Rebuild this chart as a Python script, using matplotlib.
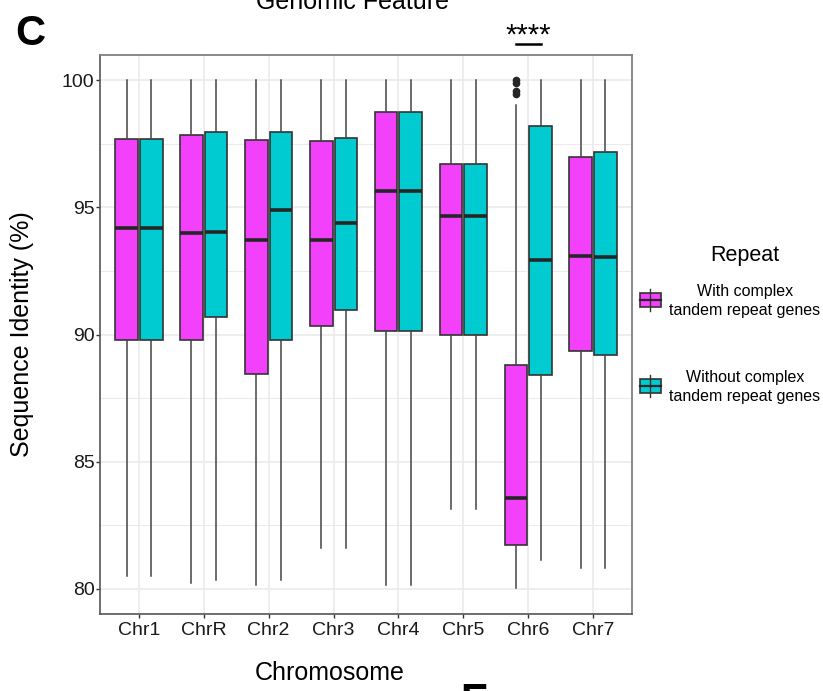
import matplotlib
matplotlib.use('Agg')
import matplotlib.pyplot as plt
from matplotlib.patches import Rectangle
from matplotlib.lines import Line2D

plt.rcParams['font.family'] = ['Liberation Sans', 'DejaVu Sans']

# values (Sequence Identity, %)
chromosomes = ['Chr1', 'ChrR', 'Chr2', 'Chr3', 'Chr4', 'Chr5', 'Chr6', 'Chr7']
group_labels = ['With complex\ntandem repeat genes', 'Without complex\ntandem repeat genes']

with_low = [80.48, 80.22, 80.13, 81.60, 80.15, 83.13, 80.01, 80.81]
with_q1 = [89.80, 89.80, 88.44, 90.34, 90.14, 90.00, 81.73, 89.37]
with_med = [94.18, 93.98, 93.73, 93.70, 95.64, 94.67, 83.55, 93.07]
with_q3 = [97.71, 97.85, 97.66, 97.60, 98.75, 96.72, 88.79, 97.00]
with_high = [100.0, 100.0, 100.0, 100.0, 100.0, 100.0, 99.02, 100.0]
with_outliers = [[], [], [], [], [], [], [100.0, 99.9, 99.6, 99.45], []]

without_low = [80.48, 80.34, 80.34, 81.60, 80.15, 83.13, 81.11, 80.81]
without_q1 = [89.80, 90.69, 89.80, 90.97, 90.14, 90.00, 88.39, 89.19]
without_med = [94.18, 94.04, 94.89, 94.40, 95.64, 94.67, 92.95, 93.04]
without_q3 = [97.71, 97.98, 97.95, 97.74, 98.75, 96.72, 98.19, 97.17]
without_high = [100.0, 100.0, 100.0, 100.0, 100.0, 100.0, 100.0, 100.0]
without_outliers = [[], [], [], [], [], [], [], []]

sig_chrom = 'Chr6'
sig_label = '****'

colors = ['#F340FA', '#00CBD1']
edge = '#333333'


def make_stats(low, q1, med, q3, high, fliers):
    return [dict(whislo=a, q1=b, med=c, q3=d, whishi=e, fliers=f)
            for a, b, c, d, e, f in zip(low, q1, med, q3, high, fliers)]


fig = plt.figure(figsize=(8.23, 6.91), dpi=100)
ax = fig.add_axes([100 / 823, 77 / 691, 532 / 823, 559 / 691])

groups = [
    make_stats(with_low, with_q1, with_med, with_q3, with_high, with_outliers),
    make_stats(without_low, without_q1, without_med, without_q3, without_high, without_outliers),
]
offsets = [-0.19, 0.19]
base = list(range(1, len(chromosomes) + 1))

for stats, off, col in zip(groups, offsets, colors):
    ax.bxp(stats, positions=[p + off for p in base], widths=0.35,
           patch_artist=True, showcaps=False, showfliers=True,
           boxprops=dict(facecolor=col, edgecolor=edge, linewidth=1.2),
           whiskerprops=dict(color='#444444', linewidth=1.1),
           medianprops=dict(color='#262626', linewidth=2.6),
           flierprops=dict(marker='o', markerfacecolor='#262626',
                           markeredgecolor='#262626', markersize=4.5),
           manage_ticks=False, zorder=3)

ax.set_xlim(0.4, len(chromosomes) + 0.6)
ax.set_ylim(79.0, 101.0)
ax.set_xticks(base)
ax.set_xticklabels(chromosomes)
ax.set_yticks([80, 85, 90, 95, 100])
ax.set_yticks([82.5, 87.5, 92.5, 97.5], minor=True)
ax.tick_params(axis='both', which='major', labelsize=14, length=3, width=1,
               color=edge, labelcolor='#1a1a1a')
ax.tick_params(axis='x', pad=2.5)
ax.tick_params(axis='y', pad=1)
ax.tick_params(axis='y', which='minor', length=0)

ax.grid(True, which='major', color='#ebebeb', linewidth=1.2, zorder=0)
ax.grid(True, which='minor', axis='y', color='#ebebeb', linewidth=0.7, zorder=0)
ax.set_axisbelow(True)

for side in ['left', 'bottom']:
    ax.spines[side].set_color('#555555')
    ax.spines[side].set_linewidth(1.2)
for side in ['top', 'right']:
    ax.spines[side].set_color('#808080')
    ax.spines[side].set_linewidth(1.3)

ax.set_xlabel('Chromosome', fontsize=18)
ax.set_ylabel('Sequence Identity (%)', fontsize=18)
ax.xaxis.set_label_coords(0.432, -0.084)
ax.yaxis.set_label_coords(-0.124, 0.5)

# significance bar above Chr6
sx = chromosomes.index(sig_chrom) + 1
ax.plot([sx + offsets[0], sx + offsets[1]], [101.42, 101.42], color='black',
        linewidth=1.8, clip_on=False)
ax.text(sx, 101.2, sig_label, ha='center', va='bottom', fontsize=21, clip_on=False)

# overlay in pixel coordinates for panel letters, title and legend
ov = fig.add_axes([0, 0, 1, 1], facecolor='none')
ov.set_xlim(0, 823)
ov.set_ylim(691, 0)
ov.axis('off')

ov.text(15, 45, 'C', fontsize=30, fontweight='bold', ha='left', va='baseline')
ov.text(460, 713, 'E', fontsize=30, fontweight='bold', ha='left', va='baseline')
ov.text(353, 9, 'Genomic Feature', fontsize=18, ha='center', va='baseline')

ov.text(745, 255, 'Repeat', fontsize=15.5, ha='center', va='center')
key_centers = [300, 386]
for yc, col, lab in zip(key_centers, colors, group_labels):
    ov.add_line(Line2D([650.5, 650.5], [yc - 11, yc + 11], color=edge, linewidth=1.0))
    ov.add_patch(Rectangle((640, yc - 7), 21, 14, facecolor=col, edgecolor=edge,
                           linewidth=1.2))
    ov.add_line(Line2D([640, 661], [yc, yc], color='#262626', linewidth=1.6))
    ov.text(745, yc + 1, lab, fontsize=11.5, ha='center', va='center',
            multialignment='center', linespacing=1.35)

fig.savefig('out.png', dpi=100)
